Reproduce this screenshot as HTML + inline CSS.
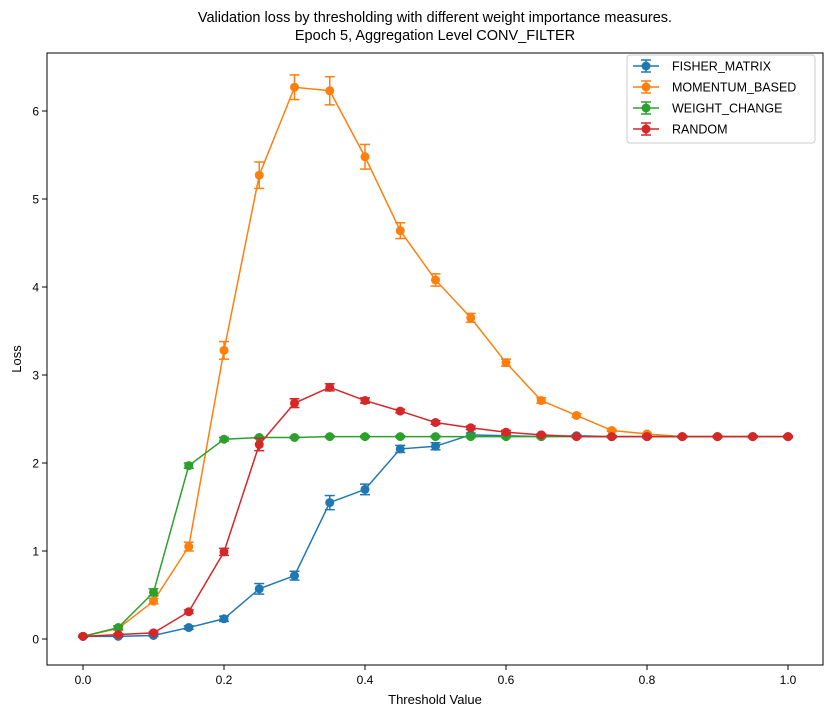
<!DOCTYPE html>
<html><head><meta charset="utf-8"><style>
body{margin:0;background:#fff;}
svg{font-family:"Liberation Sans","DejaVu Sans",sans-serif;}
</style></head><body>
<svg id="c" width="833" height="717" xmlns="http://www.w3.org/2000/svg">
<rect width="833" height="717" fill="#fff"/>
<text x="435" y="22" text-anchor="middle" font-size="14.5">Validation loss by thresholding with different weight importance measures.</text>
<text x="435" y="40" text-anchor="middle" font-size="14.5">Epoch 5, Aggregation Level CONV_FILTER</text>
<g id="plot"></g>
<rect x="47" y="53" width="776" height="612" fill="none" stroke="#000" stroke-width="1"/>
<text x="435" y="704" text-anchor="middle" font-size="13">Threshold Value</text>
<text x="21" y="359" text-anchor="middle" font-size="13" transform="rotate(-90 21 359)">Loss</text>
</svg>
<script>
const thresholds=[0,0.05,0.1,0.15,0.2,0.25,0.3,0.35,0.4,0.45,0.5,0.55,0.6,0.65,0.7,0.75,0.8,0.85,0.9,0.95,1.0];
const seriesNames=["FISHER_MATRIX","MOMENTUM_BASED","WEIGHT_CHANGE","RANDOM"];
const fisherVals=[0.03,0.03,0.04,0.13,0.23,0.57,0.72,1.55,1.70,2.16,2.19,2.32,2.31,2.30,2.31,2.30,2.30,2.30,2.30,2.30,2.30];
const fisherErr=[0.01,0.01,0.01,0.02,0.03,0.06,0.05,0.08,0.06,0.04,0.04,0.02,0.01,0.01,0.01,0.01,0.01,0.01,0.01,0.01,0.01];
const momentumVals=[0.03,0.12,0.43,1.05,3.28,5.27,6.27,6.23,5.48,4.64,4.08,3.65,3.14,2.71,2.54,2.37,2.33,2.30,2.30,2.30,2.30];
const momentumErr=[0.01,0.02,0.03,0.05,0.10,0.15,0.14,0.16,0.14,0.09,0.07,0.05,0.04,0.03,0.02,0.01,0.01,0.01,0.01,0.01,0.01];
const weightVals=[0.03,0.13,0.53,1.97,2.27,2.29,2.29,2.30,2.30,2.30,2.30,2.30,2.30,2.30,2.30,2.30,2.30,2.30,2.30,2.30,2.30];
const weightErr=[0.01,0.02,0.04,0.03,0.02,0.01,0.01,0.01,0.01,0.01,0.01,0.01,0.01,0.01,0.01,0.01,0.01,0.01,0.01,0.01,0.01];
const randomVals=[0.03,0.05,0.07,0.31,0.99,2.21,2.68,2.86,2.71,2.59,2.46,2.40,2.35,2.32,2.30,2.30,2.30,2.30,2.30,2.30,2.30];
const randomErr=[0.01,0.01,0.01,0.02,0.04,0.07,0.05,0.04,0.03,0.02,0.02,0.02,0.02,0.01,0.01,0.01,0.01,0.01,0.01,0.01,0.01];
const xTicks=[0,0.2,0.4,0.6,0.8,1.0];
const yTicks=[0,1,2,3,4,5,6];
const colors=["#1f77b4","#ff7f0e","#2ca02c","#d62728"];
const NS="http://www.w3.org/2000/svg";
const X=v=>83+v*705;
const Y=v=>639-v*88;
const g=document.getElementById('plot');
function mk(tag,attrs,parent){const e=document.createElementNS(NS,tag);for(const k in attrs)e.setAttribute(k,attrs[k]);(parent||g).appendChild(e);return e;}
xTicks.forEach(t=>{
 const l=mk('line',{x1:X(t),x2:X(t),y1:665,y2:670,stroke:'#000'});
 
 
 const tx=mk('text',{x:X(t),y:684,'text-anchor':'middle','font-size':12});
 tx.textContent=t.toFixed(1);
 
 
});
yTicks.forEach(t=>{
 const l=mk('line',{x1:42,x2:47,y1:Y(t),y2:Y(t),stroke:'#000'});
 
 
 const tx=mk('text',{x:39,y:Y(t)+4.5,'text-anchor':'end','font-size':12});
 tx.textContent=String(t);
 
 
});
const allVals=[fisherVals,momentumVals,weightVals,randomVals];
const allErr=[fisherErr,momentumErr,weightErr,randomErr];
allVals.forEach((vals,s)=>{
 const sg=mk('g',{});
 
 
 const c=colors[s];
 vals.forEach((v,i)=>{
  const e=allErr[s][i],x=X(thresholds[i]);
  mk('line',{x1:x,x2:x,y1:Y(v-e),y2:Y(v+e),stroke:c,'stroke-width':1.5},sg);
  mk('line',{x1:x-5,x2:x+5,y1:Y(v-e),y2:Y(v-e),stroke:c,'stroke-width':1.5},sg);
  mk('line',{x1:x-5,x2:x+5,y1:Y(v+e),y2:Y(v+e),stroke:c,'stroke-width':1.5},sg);
 });
 const p=mk('polyline',{points:vals.map((v,i)=>X(thresholds[i])+','+Y(v)).join(' '),fill:'none',stroke:c,'stroke-width':1.5},sg);
 
 
 vals.forEach((v,i)=>{
  const m=mk('circle',{cx:X(thresholds[i]),cy:Y(v),r:4.5,fill:c},sg);
  
  
 });
});
const lg=mk('g',{});


mk('rect',{x:627,y:55,width:188,height:88,rx:3,fill:'#fff',stroke:'#ccc'},lg);
seriesNames.forEach((n,s)=>{
 const y=66+s*21,c=colors[s];
 const eg=mk('g',{},lg);
 
 
 mk('line',{x1:633,x2:659,y1:y,y2:y,stroke:c,'stroke-width':1.5},eg);
 mk('line',{x1:646,x2:646,y1:y-6,y2:y+6,stroke:c,'stroke-width':1.5},eg);
 mk('line',{x1:641,x2:651,y1:y-6,y2:y-6,stroke:c,'stroke-width':1.5},eg);
 mk('line',{x1:641,x2:651,y1:y+6,y2:y+6,stroke:c,'stroke-width':1.5},eg);
 mk('circle',{cx:646,cy:y,r:4.5,fill:c},eg);
 const t=mk('text',{x:672,y:y+4.5,'font-size':12.5},eg);
 t.textContent=n;
});
</script>
</body></html>
